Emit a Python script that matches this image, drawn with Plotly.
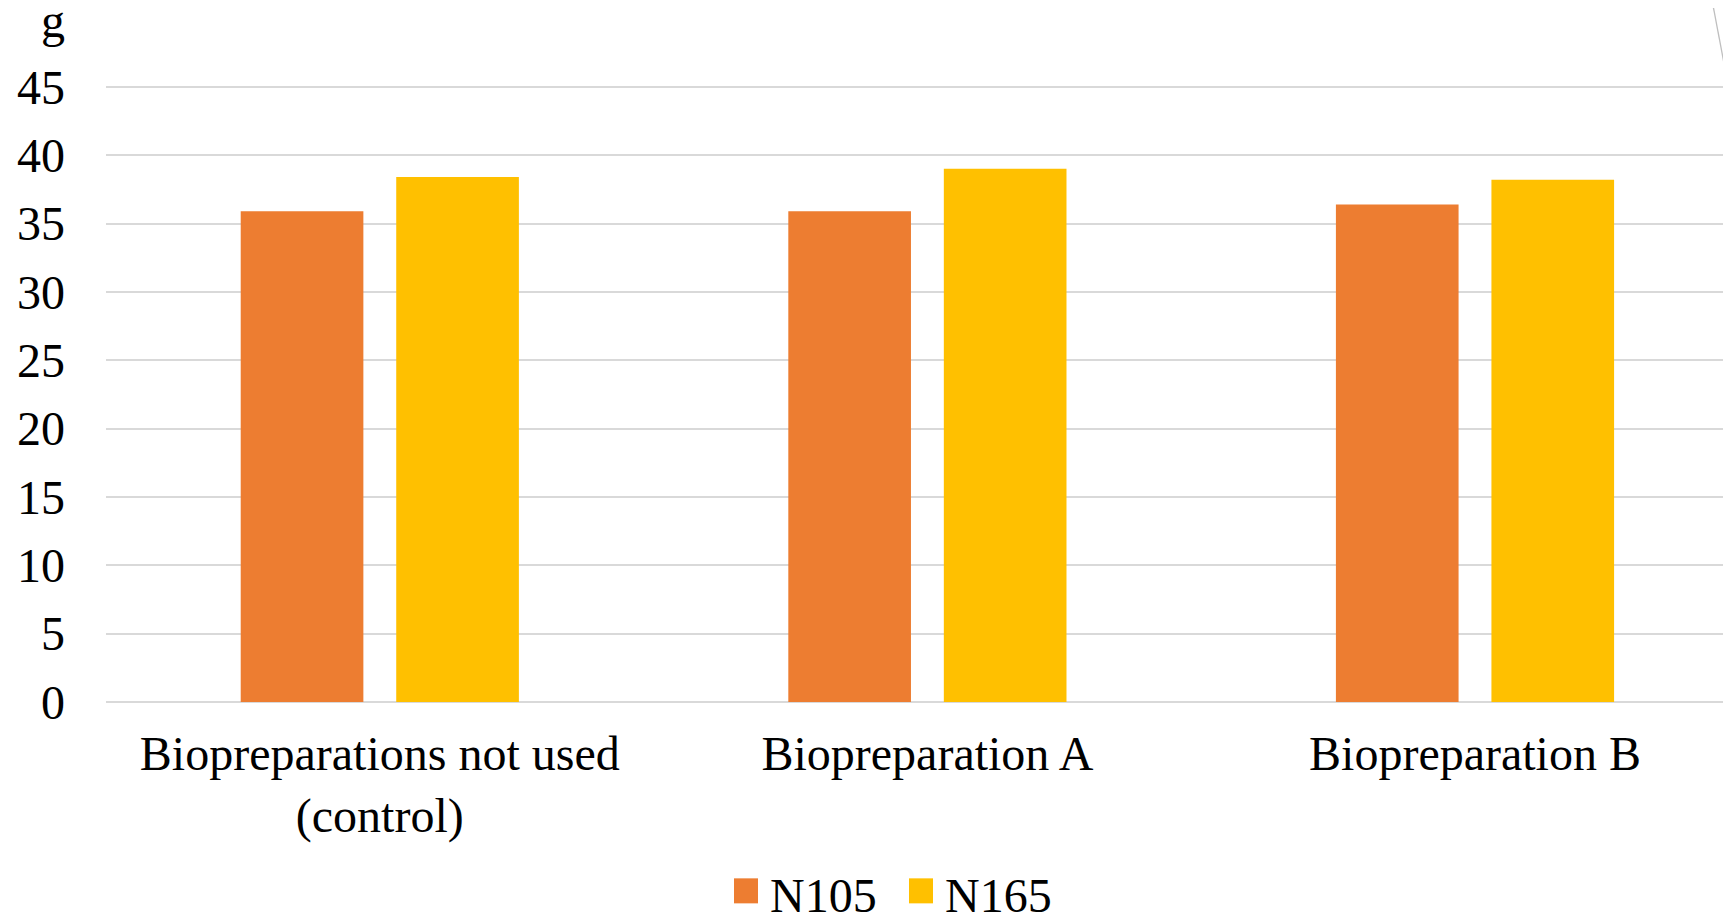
import plotly.graph_objects as go

categories = ["Biopreparations not used<br>(control)", "Biopreparation A", "Biopreparation B"]
series_names = ["N105", "N165"]
n105 = [35.9, 35.9, 36.4]
n165 = [38.4, 39.0, 38.2]
colors = ["#ED7D31", "#FFC000"]
y_ticks = [0, 5, 10, 15, 20, 25, 30, 35, 40, 45]
y_unit = "g"

# page body has an 8px margin; figure coordinates = screen - 8
W, H = 1723, 904
Y0, YPX = 693.7, 615.0 / 45.0   # pixel of value 0, pixels per unit
YTOP = 45.5
L, R = 98, 0
T = Y0 - YTOP * YPX
B = H - Y0
PW, PH = W - L - R, H - T - B

def px(x):
    return (x - L) / PW

def py(y):
    return (H - B - y) / PH

FONT = "Liberation Serif, Times New Roman, serif"
FS = 48

fig = go.Figure()
x_idx = list(range(len(categories)))
bar_w = 0.224
offsets = [-0.254, 0.030]
for name, vals, col, off in zip(series_names, [n105, n165], colors, offsets):
    fig.add_trace(go.Bar(
        x=x_idx, y=vals, name=name, width=bar_w, offset=off,
        marker=dict(color=col, line=dict(width=0)), showlegend=False,
    ))

fig.update_layout(
    width=W, height=H,
    margin=dict(l=L, r=R, t=T, b=B, pad=0),
    paper_bgcolor="white", plot_bgcolor="white",
    barmode="overlay",
    font=dict(family=FONT, size=FS, color="black"),
    showlegend=False,
)
fig.update_xaxes(
    tickmode="array", tickvals=x_idx, ticktext=categories,
    range=[-0.5, -0.5 + PW / 547.6],
    showgrid=False, zeroline=False, showline=False, ticks="",
    ticklabelstandoff=19,
)
fig.update_yaxes(
    tickmode="array", tickvals=y_ticks, ticktext=[str(v) for v in y_ticks],
    range=[0, YTOP], showgrid=True, gridcolor="#d9d9d9", gridwidth=1.5,
    zeroline=True, zerolinecolor="#d9d9d9", zerolinewidth=1.5,
    showline=False, ticks="", ticklabelstandoff=40,
)

# unit label above y axis
fig.add_annotation(text=y_unit, xref="paper", yref="paper", x=px(59), y=py(12),
                   xanchor="right", yanchor="middle", showarrow=False,
                   font=dict(family=FONT, size=FS, color="black"))

# manual legend
leg_items = [(726, 760), (901, 935)]
for (sx, tx), name, col in zip(leg_items, series_names, colors):
    fig.add_shape(type="rect", xref="paper", yref="paper",
                  x0=px(sx), x1=px(sx + 24), y0=py(895), y1=py(870),
                  fillcolor=col, line=dict(width=0))
    fig.add_annotation(text=name, xref="paper", yref="paper", x=px(tx), y=py(887),
                       xanchor="left", yanchor="middle", showarrow=False,
                       font=dict(family=FONT, size=FS, color="black"))

# decorative border line at top-right
fig.add_shape(type="line", xref="paper", yref="paper",
              x0=px(1704), y0=py(-8), x1=px(1723), y1=py(92),
              line=dict(color="#bfbfbf", width=1.3))

fig.write_html("out.html")
